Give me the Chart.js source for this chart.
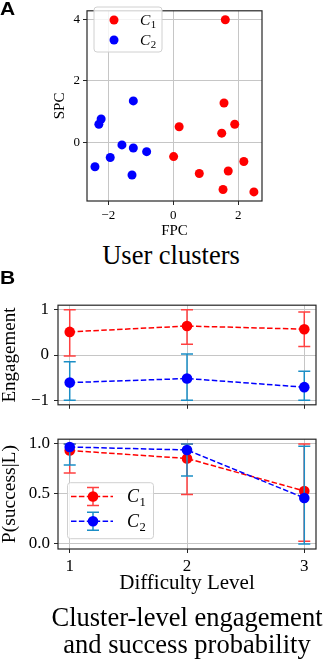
<!DOCTYPE html>
<html><head><meta charset="utf-8">
<script src="https://cdn.jsdelivr.net/npm/chart.js@4.4.1/dist/chart.umd.min.js"></script>
<style>
html,body{margin:0;padding:0;background:#fff;}
body{width:325px;height:663px;position:relative;overflow:hidden;}
canvas{position:absolute;left:0;}
.lbl{position:absolute;font-family:"Liberation Sans",Arial,sans-serif;font-weight:bold;font-size:17.5px;line-height:1;transform:scaleX(1.2);transform-origin:left top;}
.cap{position:absolute;font-family:"Liberation Serif","Times New Roman",serif;font-size:26.5px;white-space:nowrap;transform:translateX(-50%);line-height:1;color:#000;}
</style></head>
<body>
<canvas id="ca" width="325" height="240" style="top:0px"></canvas>
<div class="lbl" style="left:0px;top:1px">A</div>
<div class="cap" style="left:171px;top:242px">User clusters</div>
<div class="lbl" style="left:0px;top:269.5px">B</div>
<canvas id="cb1" width="325" height="130" style="top:290px"></canvas>
<canvas id="cb2" width="325" height="180" style="top:425px"></canvas>
<div class="cap" style="left:187px;top:603.8px">Cluster-level engagement</div>
<div class="cap" style="left:187px;top:630.6px">and success probability</div>
<script>
// ---------- DATA ----------
const SERIES_LABELS = ['C₁', 'C₂'];
// Panel A: user clusters (FPC vs SPC)
const A_C1_FPC = [1.60, 1.56, 1.89, 1.49, 0.18, 0.01, 0.80, 2.17, 1.69, 1.53, 2.48];
const A_C1_SPC = [3.98, 1.27, 0.58, 0.29, 0.50, -0.47, -1.02, -0.63, -0.94, -1.54, -1.62];
const A_C2_FPC = [-1.23, -2.22, -2.29, -1.58, -1.23, -0.82, -1.94, -2.41, -1.27];
const A_C2_SPC = [1.34, 0.75, 0.58, -0.09, -0.19, -0.31, -0.50, -0.80, -1.07];
const A_XTICKS = [-2, 0, 2];
const A_XTICK_LABELS = ['−2', '0', '2'];
const A_YTICKS = [0, 2, 4];
const A_YTICK_LABELS = ['0', '2', '4'];
// Panel B: difficulty levels
const LEVELS = [1, 2, 3];
const LEVEL_LABELS = ['1', '2', '3'];
const ENG_C1 = [0.51, 0.64, 0.57];
const ENG_C1_LOW = [-0.02, 0.24, 0.19];
const ENG_C1_HIGH = [1.0, 1.0, 0.95];
const ENG_C2 = [-0.61, -0.52, -0.71];
const ENG_C2_LOW = [-1.0, -1.0, -1.0];
const ENG_C2_HIGH = [-0.15, 0.02, -0.36];
const ENG_YTICKS = [-1, 0, 1];
const ENG_YTICK_LABELS = ['−1', '0', '1'];
const SUC_C1 = [0.935, 0.855, 0.53];
const SUC_C1_LOW = [0.71, 0.495, 0.026];
const SUC_C1_HIGH = [1.0, 1.0, 1.0];
const SUC_C2 = [0.97, 0.94, 0.46];
const SUC_C2_LOW = [0.79, 0.68, 0.0];
const SUC_C2_HIGH = [1.0, 1.0, 0.977];
const SUC_YTICKS = [0, 0.5, 1.0];
const SUC_YTICK_LABELS = ['0.0', '0.5', '1.0'];

// ---------- STYLE ----------
const SERIF = '"Liberation Serif","Times New Roman",serif';
const GRID = '#c6c6c6';
const SPINE = '#262626';
const RED = '#ff0000', BLUE = '#0000ff';
const RED_ERR = '#ff4040', BLUE_ERR = '#1b8ec6';

const boxPlugin = {id:'box', afterDatasetsDraw(chart){
  const {ctx, chartArea:a} = chart; ctx.save();
  ctx.strokeStyle = SPINE; ctx.lineWidth = 1.2;
  ctx.strokeRect(a.left, a.top, a.right - a.left, a.bottom - a.top); ctx.restore();
}};

const errPlugin = {id:'err', beforeDatasetDraw(chart, args){
  const ds = chart.data.datasets[args.index];
  if (!ds.errLow) return;
  const xs = chart.scales.x, ys = chart.scales.y, ctx = chart.ctx;
  ctx.save(); ctx.strokeStyle = ds.errColor; ctx.lineWidth = 1.5;
  ds.data.forEach((p, i) => {
    const x = xs.getPixelForValue(p.x);
    const y1 = ys.getPixelForValue(ds.errLow[i]);
    const y2 = ys.getPixelForValue(ds.errHigh[i]);
    ctx.beginPath();
    ctx.moveTo(x, y1); ctx.lineTo(x, y2);
    ctx.moveTo(x - 6, y1); ctx.lineTo(x + 6, y1);
    ctx.moveTo(x - 6, y2); ctx.lineTo(x + 6, y2);
    ctx.stroke();
  });
  ctx.restore();
}};

function roundRect(ctx, x, y, w, h, r){
  ctx.beginPath();
  ctx.moveTo(x + r, y); ctx.lineTo(x + w - r, y); ctx.quadraticCurveTo(x + w, y, x + w, y + r);
  ctx.lineTo(x + w, y + h - r); ctx.quadraticCurveTo(x + w, y + h, x + w - r, y + h);
  ctx.lineTo(x + r, y + h); ctx.quadraticCurveTo(x, y + h, x, y + h - r);
  ctx.lineTo(x, y + r); ctx.quadraticCurveTo(x, y, x + r, y); ctx.closePath();
}
function drawLabel(ctx, text, x, y, size){
  // italic letter with subscript digit
  const subs = {'₁':'1','₂':'2'};
  const main = text[0], sub = subs[text.slice(1)] || text.slice(1);
  ctx.fillStyle = '#000'; ctx.textBaseline = 'alphabetic'; ctx.textAlign = 'left';
  ctx.font = 'italic ' + size + 'px ' + SERIF;
  ctx.fillText(main, x, y);
  const w = ctx.measureText(main).width;
  ctx.font = (size * 0.7) + 'px ' + SERIF;
  ctx.fillText(sub, x + w + 0.5, y + size * 0.2);
}
function makeLegend(box, entries, withErr, size){
  return {id:'customLegend', afterDraw(chart){
    const ctx = chart.ctx; ctx.save();
    roundRect(ctx, box.x, box.y, box.w, box.h, 3);
    ctx.fillStyle = 'rgba(255,255,255,0.8)'; ctx.fill();
    ctx.strokeStyle = '#d0d0d0'; ctx.lineWidth = 1; ctx.stroke();
    chart.data.datasets.forEach((ds, i) => {
      const e = entries[i];
      if (withErr) {
        ctx.setLineDash([5.5, 2.4]); ctx.strokeStyle = ds.borderColor; ctx.lineWidth = 1.5;
        ctx.beginPath(); ctx.moveTo(e.lx1, e.y); ctx.lineTo(e.lx2, e.y); ctx.stroke();
        ctx.setLineDash([]); ctx.strokeStyle = ds.errColor;
        ctx.beginPath();
        ctx.moveTo(e.mx, e.y - 9); ctx.lineTo(e.mx, e.y + 9);
        ctx.moveTo(e.mx - 6, e.y - 9); ctx.lineTo(e.mx + 6, e.y - 9);
        ctx.moveTo(e.mx - 6, e.y + 9); ctx.lineTo(e.mx + 6, e.y + 9);
        ctx.stroke();
      }
      ctx.fillStyle = ds.backgroundColor;
      ctx.beginPath(); ctx.arc(e.mx, e.y, e.r, 0, Math.PI * 2); ctx.fill();
      drawLabel(ctx, ds.label, e.tx, e.y + size * 0.33, size);
    });
    ctx.restore();
  }};
}

function fixedTicks(values){ return s => { s.ticks = values.map(v => ({value: v})); }; }
function tickOpts(labels, size, pad, display = true){
  return {display, autoSkip:false, maxRotation:0, minRotation:0, padding:pad, color:'#000',
    font:{family:SERIF, size}, callback:(v, i) => labels[i]};
}
function gridOpts(){ return {color:GRID, lineWidth:1, tickColor:SPINE, tickLength:4, drawTicks:true}; }

// ---------- Panel A ----------
new Chart(document.getElementById('ca'), {
  type:'scatter',
  data:{datasets:[
    {label:SERIES_LABELS[0], data:A_C1_FPC.map((x, i) => ({x, y:A_C1_SPC[i]})),
     backgroundColor:RED, borderColor:RED, pointRadius:4.5, pointBorderWidth:0},
    {label:SERIES_LABELS[1], data:A_C2_FPC.map((x, i) => ({x, y:A_C2_SPC[i]})),
     backgroundColor:BLUE, borderColor:BLUE, pointRadius:4.5, pointBorderWidth:0}
  ]},
  options:{
    responsive:false, animation:false, events:[],
    layout:{padding:{left:0, right:63, top:0, bottom:0}},
    plugins:{legend:{display:false}, tooltip:{enabled:false}},
    scales:{
      x:{type:'linear', min:-2.655, max:2.729, afterBuildTicks:fixedTicks(A_XTICKS),
         ticks:tickOpts(A_XTICK_LABELS, 13, 3), grid:gridOpts(), border:{display:false},
         title:{display:true, text:'FPC', color:'#000', font:{family:SERIF, size:15, lineHeight:1}, padding:{top:0, bottom:1}},
         afterFit:s => { s.height = 39; }},
      y:{type:'linear', min:-1.915, max:4.27, afterBuildTicks:fixedTicks(A_YTICKS),
         ticks:tickOpts(A_YTICK_LABELS, 13, 3), grid:gridOpts(), border:{display:false},
         title:{display:true, text:'SPC', color:'#000', font:{family:SERIF, size:15, lineHeight:1}, padding:{top:52.5, bottom:0}},
         afterFit:s => { s.width = 87; }}
    }
  },
  plugins:[boxPlugin, makeLegend({x:94, y:7, w:68, h:45},
    [{mx:114, y:20, r:4.5, tx:140}, {mx:114, y:40, r:4.5, tx:140}], false, 15.5)]
});

// ---------- Panel B helpers ----------
function lineDs(label, xs, ys, low, high, color, errColor, order){
  return {label, data:xs.map((x, i) => ({x, y:ys[i]})), errLow:low, errHigh:high, errColor,
    borderColor:color, backgroundColor:color, borderWidth:1.5, borderDash:[5.5, 2.4],
    pointRadius:5.3, pointBorderWidth:0, pointBackgroundColor:color, showLine:true, fill:false,
    tension:0, order, clip:false};
}

// ---------- Panel B top: engagement ----------
new Chart(document.getElementById('cb1'), {
  type:'scatter',
  data:{datasets:[
    lineDs(SERIES_LABELS[0], LEVELS, ENG_C1, ENG_C1_LOW, ENG_C1_HIGH, RED, RED_ERR, 2),
    lineDs(SERIES_LABELS[1], LEVELS, ENG_C2, ENG_C2_LOW, ENG_C2_HIGH, BLUE, BLUE_ERR, 1)
  ]},
  options:{
    responsive:false, animation:false, events:[],
    layout:{padding:{left:0, right:9, top:8.3, bottom:0}},
    plugins:{legend:{display:false}, tooltip:{enabled:false}},
    scales:{
      x:{type:'linear', min:0.9, max:3.1, afterBuildTicks:fixedTicks(LEVELS),
         ticks:tickOpts(LEVEL_LABELS, 17, 3, false), grid:gridOpts(), border:{display:false},
         afterFit:s => { s.height = 8; }},
      y:{type:'linear', min:-1.1, max:1.1, afterBuildTicks:fixedTicks(ENG_YTICKS),
         ticks:tickOpts(ENG_YTICK_LABELS, 17, 5), grid:gridOpts(), border:{display:false},
         title:{display:true, text:'Engagement', color:'#000', font:{family:SERIF, size:19, lineHeight:1}, padding:{top:0.5, bottom:0}},
         afterFit:s => { s.width = 58; }}
    }
  },
  plugins:[errPlugin, boxPlugin]
});

// ---------- Panel B bottom: success probability ----------
new Chart(document.getElementById('cb2'), {
  type:'scatter',
  data:{datasets:[
    lineDs(SERIES_LABELS[0], LEVELS, SUC_C1, SUC_C1_LOW, SUC_C1_HIGH, RED, RED_ERR, 2),
    lineDs(SERIES_LABELS[1], LEVELS, SUC_C2, SUC_C2_LOW, SUC_C2_HIGH, BLUE, BLUE_ERR, 1)
  ]},
  options:{
    responsive:false, animation:false, events:[],
    layout:{padding:{left:0, right:9, top:10, bottom:0}},
    plugins:{legend:{display:false}, tooltip:{enabled:false}},
    scales:{
      x:{type:'linear', min:0.9, max:3.1, afterBuildTicks:fixedTicks(LEVELS),
         ticks:tickOpts(LEVEL_LABELS, 17, 3), grid:gridOpts(), border:{display:false},
         title:{display:true, text:'Difficulty Level', color:'#000', font:{family:SERIF, size:21, lineHeight:1}, padding:{top:0, bottom:11.5}},
         afterFit:s => { s.height = 56; }},
      y:{type:'linear', min:-0.051, max:1.048, afterBuildTicks:fixedTicks(SUC_YTICKS),
         ticks:tickOpts(SUC_YTICK_LABELS, 17, 4), grid:gridOpts(), border:{display:false},
         title:{display:true, text:'P(success|L)', color:'#000', font:{family:SERIF, size:19.5, lineHeight:1}, padding:{top:0.5, bottom:0}},
         afterFit:s => { s.width = 58; }}
    }
  },
  plugins:[errPlugin, boxPlugin, makeLegend({x:67.5, y:57.7, w:86, h:56},
    [{mx:93, y:71.5, r:5.3, lx1:71, lx2:113, tx:127}, {mx:93, y:96.3, r:5.3, lx1:71, lx2:113, tx:127}], true, 18)]
});
</script>
</body></html>
